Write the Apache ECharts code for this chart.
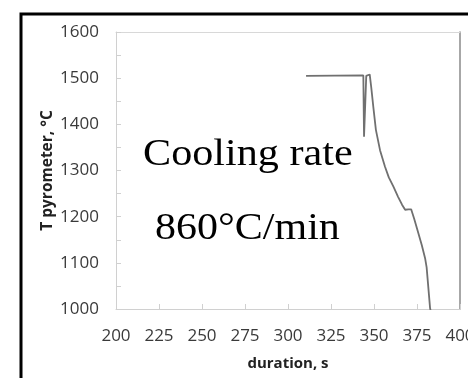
<!DOCTYPE html>
<html>
<head>
<meta charset="utf-8">
<script src="https://cdn.jsdelivr.net/npm/echarts@6/dist/echarts.min.js"></script>
<style>html,body{margin:0;padding:0;background:#fff}#c{width:468px;height:378px}</style>
</head>
<body>
<div id="c"></div>
<script>
// duration (s)
const durations = [310.5, 343.8, 344.2, 344.8, 345.5, 346.2, 347.5, 348.4, 349.6, 351.1, 353.5, 356.4, 358.6, 361.3, 364.0, 366.3, 368.1, 370.0, 371.6, 373.4, 375.8, 377.8, 379.7, 380.6, 382.6, 383.0];
// T pyrometer (°C)
const temps = [1505, 1506, 1373, 1373, 1505, 1509, 1508, 1480, 1438, 1388, 1344, 1308, 1285, 1265, 1243, 1226, 1215, 1216, 1216, 1195, 1164, 1138, 1110, 1090, 1002, 995];
const xTicks = [200, 225, 250, 275, 300, 325, 350, 375, 400];
const yTicks = [1000, 1100, 1200, 1300, 1400, 1500, 1600];
const annotationLines = ['Cooling rate', '860°C/min'];

const seriesData = durations.map((d, i) => [d, temps[i]]);
const font = '"Open Sans", sans-serif';
const serif = '37px "Liberation Serif", "Times New Roman", serif';

const chart = echarts.init(document.getElementById('c'), null, {renderer: 'canvas'});
chart.setOption({
  animation: false,
  backgroundColor: '#fff',
  grid: {left: 116, right: 8, top: 32, bottom: 69, outerBoundsMode: 'none', containLabel: false},
  xAxis: [{
    type: 'value', min: xTicks[0], max: xTicks[xTicks.length - 1], interval: 25,
    axisLine: {lineStyle: {color: '#d0d0d0', width: 1}},
    axisTick: {inside: true, length: 5, lineStyle: {color: '#d0d0d0'}},
    splitLine: {show: false},
    axisLabel: {margin: 19, fontFamily: font, fontSize: 17, color: '#3a3a3a', hideOverlap: false},
    name: 'duration, s', nameLocation: 'middle', nameGap: 47, nameMoveOverlap: false,
    nameTextStyle: {fontFamily: font, fontSize: 15, fontWeight: 'bold', color: '#222'}
  }, {
    type: 'value', position: 'top', min: 200, max: 400,
    axisLine: {show: true, lineStyle: {color: '#d8d8d8', width: 1}},
    axisTick: {show: false}, axisLabel: {show: false}, splitLine: {show: false}
  }],
  yAxis: [{
    type: 'value', min: yTicks[0], max: yTicks[yTicks.length - 1], interval: 50,
    axisLine: {show: true, lineStyle: {color: '#d0d0d0', width: 1}},
    axisTick: {show: true, inside: true, length: 5, lineStyle: {color: '#d0d0d0'}},
    splitLine: {show: false},
    axisLabel: {margin: 17, fontFamily: font, fontSize: 17, color: '#3a3a3a',
      formatter: v => (yTicks.indexOf(v) >= 0 ? String(v) : '')},
    name: 'T pyrometer, °C', nameLocation: 'middle', nameGap: 60, nameRotate: 90, nameMoveOverlap: false,
    nameTextStyle: {fontFamily: font, fontSize: 15.5, fontWeight: 'bold', color: '#222'}
  }, {
    type: 'value', position: 'right', min: 1000, max: 1600,
    axisLine: {show: true, lineStyle: {color: '#8a8a8a', width: 1.5}},
    axisTick: {show: false}, axisLabel: {show: false}, splitLine: {show: false}
  }],
  series: [{
    type: 'line', xAxisIndex: 0, yAxisIndex: 0, data: seriesData,
    showSymbol: false, clip: true,
    lineStyle: {color: '#707070', width: 1.8}
  }],
  graphic: [
    {type: 'rect', shape: {x: 21, y: 14, width: 520, height: 420},
     style: {fill: 'none', stroke: '#000', lineWidth: 3}, silent: true},
    {type: 'text', x: 143, y: 137, scaleX: 1.14, scaleY: 1.0,
     style: {text: annotationLines[0], font: serif, fill: '#000'}},
    {type: 'text', x: 155, y: 211, scaleX: 1.135, scaleY: 1.0,
     style: {text: annotationLines[1], font: serif, fill: '#000'}}
  ]
});
</script>
</body>
</html>
